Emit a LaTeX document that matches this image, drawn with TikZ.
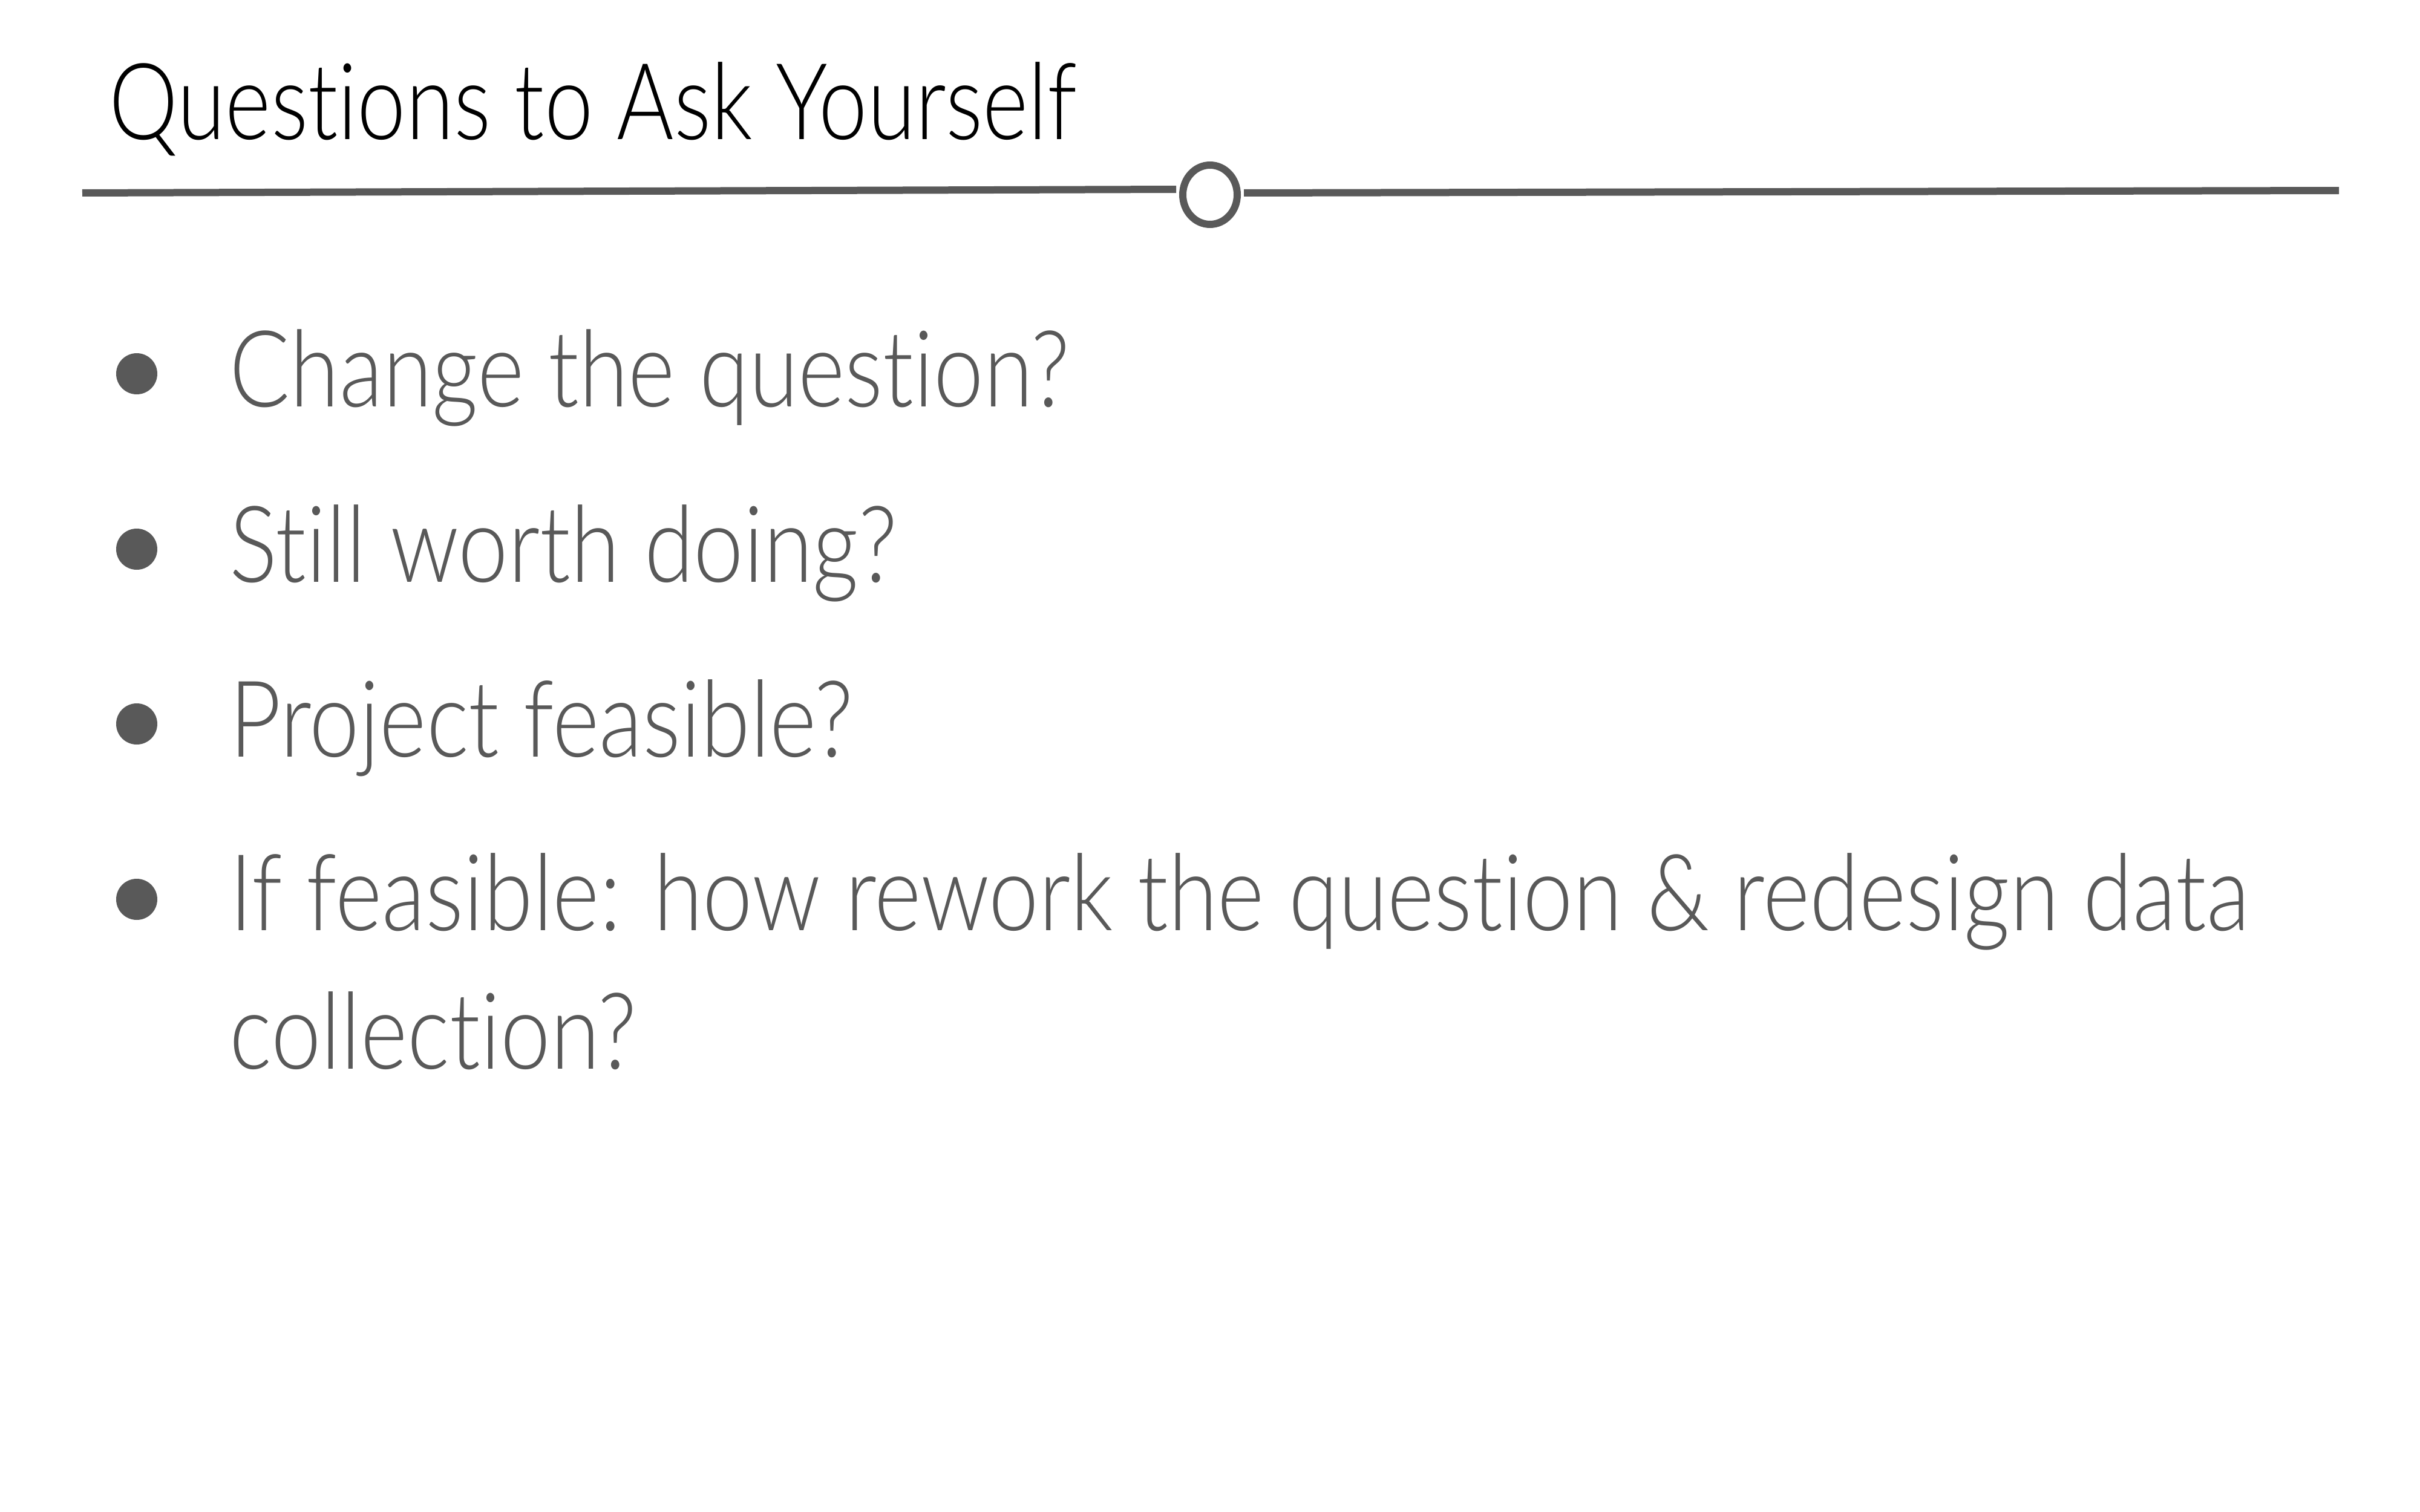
\documentclass[tikz,border=0pt]{standalone}
\usepackage{fontspec}
\usetikzlibrary{shapes.geometric}
\IfFontExistsTF{Lato Light}{%
  \setmainfont{Lato Light}[FakeStretch=0.82, Ligatures={NoCommon}]%
  \newfontfamily\bodyfont{Lato Light}[FakeStretch=0.843, Ligatures={NoCommon}]%
}{%
  \setmainfont{Lato}[FakeStretch=0.82, Ligatures={NoCommon}]%
  \newfontfamily\bodyfont{Lato}[FakeStretch=0.843, Ligatures={NoCommon}]%
}
\definecolor{slategray}{HTML}{595959}
\tikzset{
  bodytext/.style={anchor=base west, inner sep=0pt, text=slategray, font=\bodyfont\fontsize{50}{60}\selectfont},
  titletext/.style={anchor=base west, inner sep=0pt, text=black, font=\fontsize{50}{60}\selectfont},
  bulletdot/.style={circle, fill=slategray, inner sep=0pt, minimum size=0.68cm},
  rule/.style={draw=slategray, line width=0.12cm},
}
\begin{document}
\begin{tikzpicture}
\useasboundingbox (0,0) rectangle (40,-25);
\fill[white] (0,0) rectangle (40,-25);
\node[titletext] (title) at (1.80,-2.31) {Questions to Ask Yourself};
\node[ellipse, draw=slategray, line width=0.12cm, minimum width=0.90cm, minimum height=0.98cm, inner sep=0pt] (knob) at (20.00,-3.22) {};
\coordinate (la) at (1.36,-3.19);
\coordinate (lb) at (19.44,-3.13);
\coordinate (ra) at (20.56,-3.19);
\coordinate (rb) at (38.66,-3.15);
\draw[rule] (la) -- (lb);
\draw[rule] (ra) -- (rb);
\node[bulletdot] (b1) at (2.26,-6.18) {};
\node[bulletdot] (b2) at (2.26,-9.08) {};
\node[bulletdot] (b3) at (2.26,-11.97) {};
\node[bulletdot] (b4) at (2.26,-14.87) {};
\node[bodytext] (t1) at (3.79,-6.72) {Change the question?};
\node[bodytext] (t2) at (3.79,-9.62) {Still worth doing?};
\node[bodytext] (t3) at (3.79,-12.51) {Project feasible?};
\node[bodytext] (t4) at (3.79,-15.38) {If feasible: how rework the question \& redesign data};
\node[bodytext] (t5) at (3.79,-17.67) {collection?};
\end{tikzpicture}
\end{document}
